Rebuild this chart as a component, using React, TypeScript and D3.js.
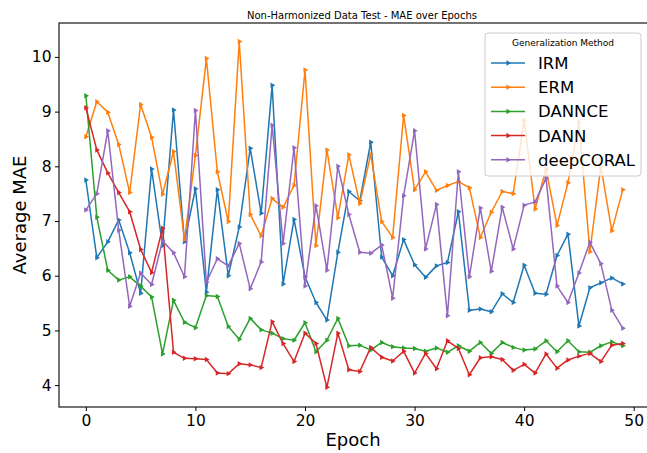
import React, { useEffect, useRef } from "react";
import * as d3 from "d3";

// MAE per epoch
const epochs = d3.range(0, 50);
const methods = ["IRM", "ERM", "DANNCE", "DANN", "deepCORAL"];
const colors = ["#1f77b4", "#ff7f0e", "#2ca02c", "#d62728", "#9467bd"];

const irm = [7.75, 6.33, 6.62, 7.02, 6.42, 5.68, 7.95, 6.55, 9.03, 6.62,
  7.59, 5.7, 7.57, 6.0, 6.89, 8.33, 7.14, 9.48, 5.85, 7.03,
  5.98, 5.51, 5.19, 6.43, 7.54, 7.37, 8.44, 6.34, 6.0, 6.66,
  6.2, 5.97, 6.18, 6.24, 7.17, 5.37, 5.39, 5.34, 5.67, 5.51,
  6.19, 5.68, 5.66, 6.37, 6.76, 5.08, 5.78, 5.87, 5.96, 5.85];
const erm = [8.54, 9.18, 8.99, 8.4, 7.52, 9.13, 8.53, 7.49, 8.27, 6.66,
  8.2, 9.97, 7.9, 6.99, 10.28, 7.12, 6.73, 7.41, 7.25, 7.65,
  9.76, 6.55, 8.3, 7.06, 8.21, 7.32, 8.22, 6.99, 6.7, 8.93,
  7.57, 7.9, 7.56, 7.65, 7.72, 7.61, 6.7, 7.16, 7.54, 7.5,
  8.84, 7.22, 7.95, 6.92, 7.7, 8.81, 6.44, 8.0, 6.82, 7.57];
const dannce = [9.29, 7.07, 6.1, 5.92, 5.98, 5.81, 5.61, 4.57, 5.55, 5.15,
  5.05, 5.64, 5.62, 5.07, 4.84, 5.22, 5.01, 4.95, 4.85, 4.82,
  5.14, 4.61, 4.82, 5.22, 4.72, 4.73, 4.64, 4.78, 4.7, 4.68,
  4.67, 4.62, 4.68, 4.6, 4.72, 4.62, 4.78, 4.58, 4.78, 4.69,
  4.64, 4.66, 4.81, 4.61, 4.81, 4.61, 4.6, 4.72, 4.79, 4.72];
const dann = [9.07, 8.3, 7.88, 7.52, 7.17, 6.48, 6.06, 6.87, 4.6, 4.49,
  4.48, 4.47, 4.22, 4.21, 4.39, 4.37, 4.32, 5.16, 4.76, 4.43,
  4.95, 4.76, 3.96, 4.95, 4.28, 4.25, 4.69, 4.51, 4.44, 4.62,
  4.22, 4.58, 4.3, 4.81, 4.67, 4.19, 4.5, 4.52, 4.47, 4.27,
  4.38, 4.22, 4.57, 4.31, 4.46, 4.53, 4.58, 4.43, 4.73, 4.76];
const deepCoral = [7.2, 7.5, 8.65, 6.83, 5.44, 6.05, 5.84, 6.64, 6.42, 5.98,
  9.02, 5.88, 6.31, 6.18, 6.59, 5.76, 6.25, 8.75, 6.59, 8.34,
  5.81, 7.28, 6.1, 8.0, 7.12, 6.43, 6.41, 6.56, 5.59, 7.46,
  8.65, 6.49, 7.3, 5.27, 7.9, 5.98, 7.24, 6.08, 7.25, 6.49,
  7.29, 7.35, 7.78, 5.81, 5.51, 6.05, 6.61, 6.22, 5.37, 5.04];
const series = [irm, erm, dannce, dann, deepCoral];

const xTicks = [0, 10, 20, 30, 40, 50];
const yTicks = [4, 5, 6, 7, 8, 9, 10];

const W = 647, H = 453;
const font = "DejaVu Sans, sans-serif";

export default function App() {
  const ref = useRef<SVGSVGElement>(null);

  useEffect(() => {
    const svg = d3.select(ref.current);
    svg.selectAll("*").remove();

    const left = 59, top = 23, bottom = 407, right = 649.6;
    const x = d3.scaleLinear().domain([-2.45, 51.45]).range([left, right]);
    const y = d3.scaleLinear().domain([3.6, 10.62]).range([bottom, top]);

    const marker = d3.symbol().type(d3.symbolTriangle).size(13);

    // lines + markers
    const plot = svg.append("g");
    series.forEach((vals, i) => {
      const pts = epochs.map((e) => [e, vals[e]] as [number, number]);
      const line = d3.line<[number, number]>().x((d) => x(d[0])).y((d) => y(d[1]));
      plot.append("path")
        .attr("d", line(pts))
        .attr("fill", "none")
        .attr("stroke", colors[i])
        .attr("stroke-width", 1.5)
        .attr("stroke-linejoin", "round");
      plot.append("g").selectAll("path")
        .data(pts)
        .enter()
        .append("path")
        .attr("d", marker)
        .attr("fill", colors[i])
        .attr("transform", (d) => "translate(" + x(d[0]) + "," + y(d[1]) + ") rotate(90)");
    });

    // axes
    const xAxis = svg.append("g")
      .attr("transform", "translate(0," + bottom + ")")
      .call(d3.axisBottom(x).tickValues(xTicks).tickFormat(d3.format("d")).tickSize(4).tickPadding(4).tickSizeOuter(0));
    const yAxis = svg.append("g")
      .attr("transform", "translate(" + left + ",0)")
      .call(d3.axisLeft(y).tickValues(yTicks).tickFormat(d3.format("d")).tickSize(4).tickPadding(3.5).tickSizeOuter(0));
    [xAxis, yAxis].forEach((a) => {
      a.select(".domain").remove();
      a.selectAll("text").attr("font-family", font).attr("font-size", 15.5).attr("fill", "#000");
      a.selectAll("line").attr("stroke", "#000").attr("stroke-width", 1);
    });

    // frame
    svg.append("rect")
      .attr("x", left).attr("y", top)
      .attr("width", right - left).attr("height", bottom - top)
      .attr("fill", "none").attr("stroke", "#000").attr("stroke-width", 1.1);

    // titles
    svg.append("text")
      .attr("x", 362).attr("y", 19)
      .attr("text-anchor", "middle")
      .attr("font-family", font).attr("font-size", 10)
      .text("Non-Harmonized Data Test - MAE over Epochs");
    svg.append("text")
      .attr("x", 353).attr("y", 446)
      .attr("text-anchor", "middle")
      .attr("font-family", font).attr("font-size", 18)
      .text("Epoch");
    svg.append("text")
      .attr("transform", "translate(26," + (top + bottom) / 2 + ") rotate(-90)")
      .attr("text-anchor", "middle")
      .attr("font-family", font).attr("font-size", 18)
      .text("Average MAE");

    // legend
    const lg = svg.append("g");
    lg.append("rect")
      .attr("x", 485).attr("y", 33)
      .attr("width", 156).attr("height", 143)
      .attr("rx", 3)
      .attr("fill", "#fff").attr("fill-opacity", 0.8)
      .attr("stroke", "#cccccc").attr("stroke-width", 1);
    lg.append("text")
      .attr("x", 563).attr("y", 46)
      .attr("text-anchor", "middle")
      .attr("font-family", font).attr("font-size", 9)
      .text("Generalization Method");
    methods.forEach((m, i) => {
      const cy = 63 + i * 24.2;
      lg.append("line")
        .attr("x1", 491).attr("x2", 525)
        .attr("y1", cy).attr("y2", cy)
        .attr("stroke", colors[i]).attr("stroke-width", 1.5);
      lg.append("path")
        .attr("d", marker)
        .attr("fill", colors[i])
        .attr("transform", "translate(508," + cy + ") rotate(90)");
      lg.append("text")
        .attr("x", 538).attr("y", cy + 6)
        .attr("font-family", font).attr("font-size", 16.5)
        .text(m);
    });
  }, []);

  return (
    <svg
      ref={ref}
      width={W}
      height={H}
      style={{ position: "absolute", left: 0, top: 0, background: "#fff" }}
    />
  );
}
